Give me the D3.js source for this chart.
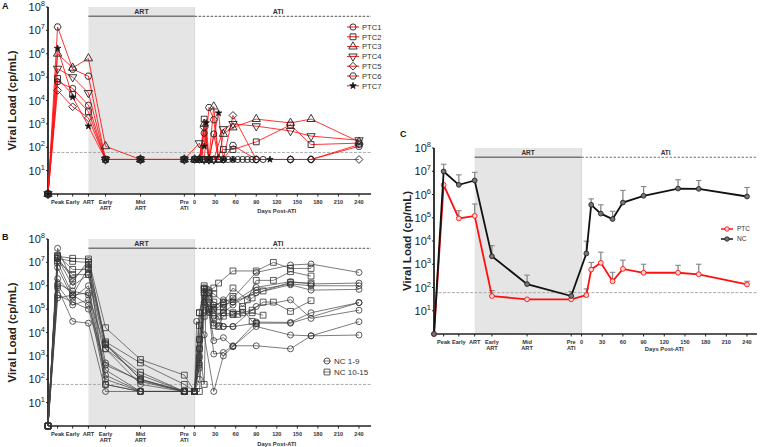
<!DOCTYPE html>
<html><head><meta charset="utf-8">
<script src="https://cdn.jsdelivr.net/npm/d3@7"></script>
<style>
body{margin:0;background:#fff}
svg{display:block}
text{font-family:"Liberation Sans",Arial,sans-serif}
</style></head>
<body><svg id="c" width="760" height="447"></svg>
<script>
// ---------- shared axis data ----------
const phaseLabels = [["Peak"],["Early"],["ART"],["Early","ART"],["Mid","ART"],["Pre","ATI"]];
const phaseX = [-214, -200, -178, -155, -130, -79, -15]; // baseline, Peak, Early, ART, Early ART, Mid ART, Pre ATI
const dayTicks = [0,30,60,90,120,150,180,210,240];
const decades = [1e1,1e2,1e3,1e4,1e5,1e6,1e7,1e8];
const detectionLimit = 60;

// ---------- panel A : PTC ----------
const ptcNames = ["PTC1","PTC2","PTC3","PTC4","PTC5","PTC6","PTC7"];
const ptcPre = [
  [1, 6.3e4, 3.3e4, 6.3e3, 30, 30, 30],
  [1, 8.7e4, 1.8e4, 3.3e3, 30, 30, 30],
  [1, 1e6,   2.5e5, 6.3e5, 110, 30, 30],
  [1, 2.3e5, 1e5,   2.1e4, 30, 30, 30],
  [1, 2.7e4, 5.4e3, 1.8e3, 30, 30, 30],
  [1, 1.4e7, 2.2e5, 1.1e5, 30, 30, 30],
  [1, 1.7e6, 1.4e4, 800,   30, 30, 30]
];
const ptcDays = [0,7,10,14,17,21,28,35,42,49,56,63,70,77,84,90,100,110,140,170,240];
const n = null;
const ptcAti = [
  [30,30,n,400,n,30,370,30,30,30,30,30,30,30,30,30,30,n,30,30,130],
  [30,30,30,1600,n,30,30,n,80,n,80,n,n,n,n,170,n,n,900,130,150],
  [30,30,n,1000,n,30,5500,30,370,n,700,n,n,n,n,1600,n,n,1100,1600,170],
  [n,150,n,30,n,30,30,n,600,n,1000,n,n,n,n,800,n,n,500,300,200],
  [30,30,n,700,n,30,30,n,30,n,2300,n,n,n,n,30,n,n,30,30,30],
  [30,30,n,30,n,5000,1500,30,30,n,120,n,n,n,n,30,n,n,30,30,110],
  [30,30,n,110,1100,30,n,2900,30,n,30,n,n,n,n,n,n,30,n,n,n]
];

// ---------- panel B : NC ----------
const ncNames = ["NC 1-9","NC 10-15"];
const ncPre = [
  [1, 4e7,   1.5e6, 1.2e7, 3e3,   100, 30],
  [1, 1.5e7, 1e6,   3e6,   500,   80,  30],
  [1, 6e6,   3e5,   1e6,   150,   30,  30],
  [1, 2e6,   4e5,   5e5,   100,   30,  30],
  [1, 1e6,   1.5e5, 2.5e5, 60,    30,  30],
  [1, 8e5,   3e4,   2.5e4, 30,    30,  30],
  [1, 4e5,   2e5,   1e5,   250,   30,  30],
  [1, 3e5,   4e5,   1.5e5, 400,   90,  30],
  [1, 1.2e6, 6e5,   4e5,   2e3,   60,  30],
  [1, 1.8e7, 1.5e7, 1.4e7, 1.6e4, 700, 150],
  [1, 1.5e7, 1.1e7, 1e7,   4e3,   500, 60],
  [1, 2e7,   5e6,   5e6,   3e3,   200, 30],
  [1, 1.2e7, 3e6,   3e6,   2e3,   150, 30],
  [1, 1.6e7, 2e6,   8e6,   60,    30,  30],
  [1, 1e7,   4e5,   6e6,   3.5e3, 100, 30]
];
const ncDays = [0,3,7,10,14,17,21,28,35,42,49,56,63,70,77,84,90,100,115,140,170,240];
const ncAti = [
  [30,n,300,n,8e5,n,5e5,1.5e5,n,2e5,n,3e5,n,n,n,n,3.7e6,n,n,7.7e6,8.5e6,3.7e6],
  [30,n,1000,n,5e5,n,2e5,1e5,n,1.5e5,n,2e5,n,n,n,n,8.5e5,n,n,1.5e6,1.2e6,1.3e6],
  [30,n,100,n,3e5,n,8e4,5e4,n,7e4,n,1.5e5,n,n,n,n,6.5e5,n,n,1.2e6,1e6,1e6],
  [30,n,500,n,2e5,n,n,1.2e5,n,2.5e5,n,2e5,n,n,n,n,5e5,n,n,1.1e6,6.5e5,7e5],
  [30,n,2000,n,7e4,n,1e5,4.5e3,n,6e3,n,2.5e3,n,n,n,n,2.8e4,n,n,2.7e4,7e4,1.9e5],
  [30,3e4,n,n,8e3,n,n,30,n,1e3,n,2.5e3,n,n,n,n,1.8e4,n,n,7.8e3,7.2e3,7.8e3],
  [30,n,5000,n,2e5,n,7e4,1.2e3,n,1.4e3,n,2.7e3,n,n,n,n,2.7e3,n,n,2e3,7.2e3,2.9e4],
  [30,n,800,n,1.5e5,n,n,1e5,n,1.8e4,n,1.8e4,n,n,n,n,1.3e5,n,n,2.5e5,4e4,9e4],
  [30,n,400,n,4e5,n,n,2.5e4,2e4,1.8e4,n,1.8e4,n,n,n,n,2.5e4,n,n,2.5e4,n,1.9e5],
  [30,n,5e3,n,1e6,n,6e5,8e5,1.3e6,n,n,4.3e6,n,n,n,n,4.3e6,n,1e7,5.5e6,5.5e6,n],
  [30,n,2e3,n,60,7e5,5e5,4.5e5,n,2e5,n,8e5,n,n,2.5e5,n,1.7e6,n,1.7e6,4e6,2.6e6,n],
  [30,n,7e4,n,7e5,n,2.5e5,9e4,n,1e5,n,3.5e5,n,1.3e5,n,3e5,n,6e5,n,1.4e6,1.3e6,n],
  [30,n,7e4,n,5e5,n,1e5,4e4,5e4,7e4,n,6e4,n,1e5,n,3e4,2.4e4,n,n,n,n,n],
  [30,n,30,n,5e4,n,1e5,2e4,1.8e4,5e4,n,6e4,n,7e4,n,9e4,n,2e5,2e5,8e4,2.3e5,n],
  [30,n,2e4,n,8e5,n,3e5,2e5,n,1.2e5,n,7e4,6e4,n,n,7e4,n,5.5e4,n,n,n,n]
];
const ncGroup = [0,0,0,0,0,0,0,0,0,1,1,1,1,1,1];

// ---------- panel C : means ----------
const meanNames = ["PTC","NC"];
const meanDays = [7,14,28,45,60,90,140,170,240];
const ptcMeanPre = [1, 2.6e6, 9.3e4, 1.2e5, 43, 31, 31];
const ptcErrPre  = [n, n, 2e5, 3.9e5, 74, n, n];
const ptcMeanAti = [47, 590, 1150, 185, 630, 430, 430, 370, 135];
const ptcErrAti  = [87, 1200, 3300, 450, 1500, 1000, 900, 1000, 185];
const ncMeanPre  = [1, 9.8e6, 2.6e6, 4e6, 2.2e3, 140, 43];
const ncErrPre   = [n, 2e7, 7e6, 9e6, 6.3e3, 340, 67];
const ncMeanAti  = [2.9e3, 3.6e5, 1.5e5, 8.8e4, 4.5e5, 8.8e5, 1.8e6, 1.75e6, 8.2e5];
const ncErrAti   = [9.8e3, 6.5e5, 3.6e5, 1.9e5, 1.5e6, 2.2e6, 4.3e6, 4e6, 2e6];

// ---------- drawing ----------
const svg = d3.select("#c");
const RED = "#ff1010";

function makePanel(o){
  const g = svg.append("g");
  const x = d3.scaleLinear().domain([phaseX[0], 240]).range([o.x0, o.x240]);
  const y = d3.scaleLog().domain([1, 1e8]).range([o.yBot, o.yTop]);
  const xEnd = x.invert(o.xEnd);
  g.append("rect").attr("x", x(phaseX[3])).attr("y", y(1e8))
    .attr("width", x(0)-x(phaseX[3])).attr("height", y(1)-y(1e8))
    .attr("fill", "#e5e5e5");
  g.append("line").attr("x1", x(0)).attr("x2", x(0)).attr("y1", y(1e8)).attr("y2", y(1))
    .attr("stroke", "#d0d0d0").attr("stroke-width", 0.8);
  const yb = y(4e7);
  g.append("line").attr("x1", x(phaseX[3])).attr("x2", x(0)).attr("y1", yb).attr("y2", yb)
    .attr("stroke", "#777").attr("stroke-width", 1.6);
  g.append("line").attr("x1", x(0)).attr("x2", x(xEnd)).attr("y1", yb).attr("y2", yb)
    .attr("stroke", "#777").attr("stroke-width", 1.2).attr("stroke-dasharray", "2.5,1.5");
  g.append("text").attr("x", (x(phaseX[3])+x(0))/2).attr("y", yb-2).attr("text-anchor","middle")
    .attr("font-size", o.small ? 6.5 : 7).attr("font-weight","bold").attr("fill","#333").text("ART");
  g.append("text").attr("x", x(122)).attr("y", yb-2).attr("text-anchor","middle")
    .attr("font-size", o.small ? 6.5 : 7).attr("font-weight","bold").attr("fill","#333").text("ATI");
  g.append("line").attr("x1", x(phaseX[0])).attr("x2", x(xEnd))
    .attr("y1", y(detectionLimit)).attr("y2", y(detectionLimit))
    .attr("stroke", "#aaa").attr("stroke-width", 1).attr("stroke-dasharray", "3,1.5");
  g.append("line").attr("x1", x(phaseX[0])).attr("x2", x(phaseX[0])).attr("y1", y(1e8)).attr("y2", y(1))
    .attr("stroke", "#222").attr("stroke-width", 1.8);
  g.append("line").attr("x1", x(phaseX[0])).attr("x2", x(xEnd)).attr("y1", y(1)).attr("y2", y(1))
    .attr("stroke", "#222").attr("stroke-width", 1.6);
  decades.forEach((d,i)=>{
    g.append("line").attr("x1", x(phaseX[0])-2).attr("x2", x(phaseX[0])).attr("y1", y(d)).attr("y2", y(d))
      .attr("stroke","#222").attr("stroke-width",1);
    const t = g.append("text").attr("x", x(phaseX[0])-3).attr("y", y(d)+4)
      .attr("text-anchor","end").attr("font-size", 11).attr("fill","#222");
    t.append("tspan").text("10");
    t.append("tspan").attr("dy", -5).attr("font-size", 7.5).text(String(i+1));
  });
  const tickXs = phaseX.slice(1).concat(dayTicks);
  tickXs.forEach(v=>{
    g.append("line").attr("x1", x(v)).attr("x2", x(v)).attr("y1", y(1)).attr("y2", y(1)+2.5)
      .attr("stroke","#222").attr("stroke-width",1);
  });
  phaseLabels.forEach((lab,i)=>{
    lab.forEach((s,k)=>{
      g.append("text").attr("x", x(phaseX[i+1])).attr("y", y(1)+9.5+k*6.5)
        .attr("text-anchor","middle").attr("font-size",5.6).attr("font-weight","bold").attr("fill","#333").text(s);
    });
  });
  dayTicks.forEach(v=>{
    g.append("text").attr("x", x(v)).attr("y", y(1)+9.5)
      .attr("text-anchor","middle").attr("font-size",5.6).attr("font-weight","bold").attr("fill","#333").text(String(v));
  });
  g.append("text").attr("x", x(120)).attr("y", y(1)+o.daysDy)
    .attr("text-anchor","middle").attr("font-size",5.8).attr("font-weight","bold").attr("fill","#333").text("Days Post-ATI");
  g.append("text").attr("transform", `translate(${o.titleX},${(y(1)+y(1e8))/2}) rotate(-90)`)
    .attr("text-anchor","middle").attr("font-size",11.5).attr("font-weight","bold").attr("fill","#222")
    .text("Viral Load (cp/mL)");
  g.append("text").attr("x", o.letterX).attr("y", o.letterY).attr("font-size",9).attr("font-weight","bold")
    .attr("fill","#111").text(o.letter);
  return {g, x, y};
}

function seriesPoints(pre, days, ati){
  const pts = pre.map((v,i)=>({x: phaseX[i], v}));
  days.forEach((d,i)=>{ if (ati[i] != null) pts.push({x: d, v: ati[i]}); });
  return pts;
}

const symHex = {draw(ctx, size){ const r = Math.sqrt(size/2.6);
  for(let i=0;i<6;i++){ const a=Math.PI/3*i; const px=r*Math.cos(a), py=r*Math.sin(a);
    if(i===0) ctx.moveTo(px,py); else ctx.lineTo(px,py);} ctx.closePath(); }};
const symTriDown = {draw(ctx, size){ const s=Math.sqrt(size*4/Math.sqrt(3)); const h=s*Math.sqrt(3)/2;
  ctx.moveTo(-s/2,-h/3); ctx.lineTo(s/2,-h/3); ctx.lineTo(0,2*h/3); ctx.closePath(); }};
const symTriUp = {draw(ctx, size){ const s=Math.sqrt(size*4/Math.sqrt(3)); const h=s*Math.sqrt(3)/2;
  ctx.moveTo(-s/2,h/3); ctx.lineTo(s/2,h/3); ctx.lineTo(0,-2*h/3); ctx.closePath(); }};
const symDiamond = {draw(ctx, size){ const r = Math.sqrt(size/2);
  ctx.moveTo(0,-r); ctx.lineTo(r,0); ctx.lineTo(0,r); ctx.lineTo(-r,0); ctx.closePath(); }};
const ptcSym = [
  {t: d3.symbolCircle, s: 30, fill: "none"},
  {t: d3.symbolSquare, s: 34, fill: "none"},
  {t: symTriUp, s: 30, fill: "none"},
  {t: symTriDown, s: 30, fill: "none"},
  {t: symDiamond, s: 30, fill: "none"},
  {t: symHex, s: 32, fill: "none"},
  {t: d3.symbolStar, s: 13, fill: "#111"}
];

// ===== Panel A =====
const A = makePanel({x0:48, x240:359, xEnd:371, yTop:7, yBot:194, titleX:16, letter:"A", letterX:2, letterY:9, daysDy:19});
const line = (P)=> d3.line().x(d=>P.x(d.x)).y(d=>P.y(d.v));
ptcPre.forEach((pre,i)=>{
  const pts = seriesPoints(pre, ptcDays, ptcAti[i]);
  A.g.append("path").attr("d", line(A)(pts)).attr("fill","none").attr("stroke",RED)
    .attr("stroke-width",1).attr("stroke-opacity",0.85);
});
ptcPre.forEach((pre,i)=>{
  const pts = seriesPoints(pre, ptcDays, ptcAti[i]);
  const sy = d3.symbol(ptcSym[i].t, ptcSym[i].s);
  A.g.selectAll(null).data(pts).join("path")
    .attr("transform", d=>`translate(${A.x(d.x)},${A.y(d.v)})`).attr("d", sy)
    .attr("fill", ptcSym[i].fill).attr("stroke", "#222").attr("stroke-width", 0.9);
});
ptcNames.forEach((nm,i)=>{
  const ly = 27 + i*9.8, lx = 353;
  A.g.append("line").attr("x1", lx-6).attr("x2", lx+6).attr("y1", ly).attr("y2", ly).attr("stroke", RED).attr("stroke-width",1);
  A.g.append("path").attr("transform", `translate(${lx},${ly})`).attr("d", d3.symbol(ptcSym[i].t, ptcSym[i].s))
    .attr("fill", ptcSym[i].fill).attr("stroke","#222").attr("stroke-width",0.9);
  A.g.append("text").attr("x", lx+9).attr("y", ly+2.7).attr("font-size",7.6).attr("fill","#333").text(nm);
});

// ===== Panel B =====
const B = makePanel({x0:48, x240:359, xEnd:371, yTop:239, yBot:426, titleX:16, letter:"B", letterX:2, letterY:240, daysDy:19.5});
const ncSym = [d3.symbol(d3.symbolCircle, 28), d3.symbol(d3.symbolSquare, 34)];
ncPre.forEach((pre,i)=>{
  const pts = seriesPoints(pre, ncDays, ncAti[i]);
  B.g.append("path").attr("d", line(B)(pts)).attr("fill","none").attr("stroke","#444").attr("stroke-width",0.7);
});
ncPre.forEach((pre,i)=>{
  const pts = seriesPoints(pre, ncDays, ncAti[i]);
  B.g.selectAll(null).data(pts).join("path")
    .attr("transform", d=>`translate(${B.x(d.x)},${B.y(d.v)})`).attr("d", ncSym[ncGroup[i]])
    .attr("fill","none").attr("stroke","#333").attr("stroke-width",0.8);
});
ncNames.forEach((nm,i)=>{
  const ly = 361 + i*11, lx = 327;
  B.g.append("path").attr("transform", `translate(${lx},${ly})`).attr("d", ncSym[i])
    .attr("fill","none").attr("stroke","#333").attr("stroke-width",0.8);
  B.g.append("line").attr("x1", lx-4).attr("x2", lx+4).attr("y1", ly).attr("y2", ly).attr("stroke","#444").attr("stroke-width",0.7);
  B.g.append("text").attr("x", lx+7).attr("y", ly+3).attr("font-size",8).attr("fill","#333").text(nm);
});

// ===== Panel C =====
const C = makePanel({x0:434, x240:747, xEnd:757, yTop:148, yBot:334, titleX:411, letter:"C", letterX:400, letterY:137, daysDy:16.5, small:true});
const meanSets = [
  {pre: ptcMeanPre, err: ptcErrPre, ati: ptcMeanAti, errA: ptcErrAti, col: RED, mfill:"#ffd6d6", mstroke: RED},
  {pre: ncMeanPre, err: ncErrPre, ati: ncMeanAti, errA: ncErrAti, col: "#111", mfill:"#777", mstroke:"#222"}
];
meanSets.forEach(s=>{
  const pts = seriesPoints(s.pre, meanDays, s.ati);
  const errs = seriesPoints(s.err, meanDays, s.errA);
  pts.forEach(p=>{
    const e = errs.find(q=>q.x===p.x);
    if (!e || e.v == null) return;
    C.g.append("line").attr("x1", C.x(p.x)).attr("x2", C.x(p.x)).attr("y1", C.y(p.v)).attr("y2", C.y(e.v))
      .attr("stroke","#888").attr("stroke-width",1.3);
    C.g.append("line").attr("x1", C.x(p.x)-2.8).attr("x2", C.x(p.x)+2.8).attr("y1", C.y(e.v)).attr("y2", C.y(e.v))
      .attr("stroke","#888").attr("stroke-width",1.1);
  });
});
meanSets.forEach(s=>{
  const pts = seriesPoints(s.pre, meanDays, s.ati);
  C.g.append("path").attr("d", line(C)(pts)).attr("fill","none").attr("stroke", s.col).attr("stroke-width",1.8);
  C.g.selectAll(null).data(pts).join("circle")
    .attr("cx", d=>C.x(d.x)).attr("cy", d=>C.y(d.v)).attr("r", 2.4)
    .attr("fill", s.mfill).attr("stroke", s.mstroke).attr("stroke-width", 0.9);
});
meanNames.forEach((nm,i)=>{
  const s = meanSets[i];
  const ly = 229 + i*10, lx = 727;
  C.g.append("line").attr("x1", lx-6).attr("x2", lx+6).attr("y1", ly).attr("y2", ly).attr("stroke", s.col).attr("stroke-width",1.5);
  C.g.append("circle").attr("cx", lx).attr("cy", ly).attr("r", 2.2).attr("fill", s.mfill).attr("stroke", s.mstroke).attr("stroke-width",0.9);
  C.g.append("text").attr("x", lx+10).attr("y", ly+2.3).attr("font-size",6.5).attr("fill","#333").text(nm);
});
</script>
</body></html>
